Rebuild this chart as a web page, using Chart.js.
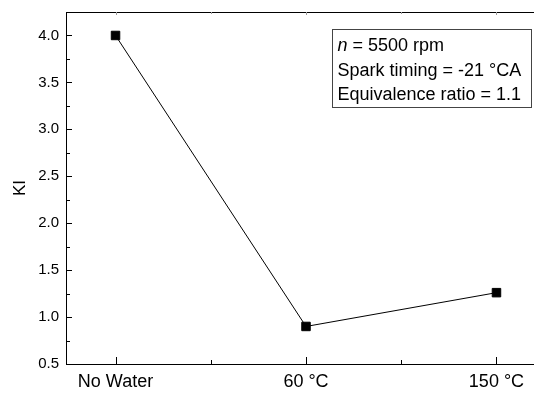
<!DOCTYPE html>
<html>
<head>
<meta charset="utf-8">
<script src="https://cdn.jsdelivr.net/npm/chart.js@4/dist/chart.umd.min.js"></script>
<style>
  html, body { margin: 0; padding: 0; background: #fff; overflow: hidden; }
  #wrap { width: 553px; height: 394px; }
</style>
</head>
<body>
<div id="wrap"><canvas id="kiChart"></canvas></div>
<script>
const categories = ['No Water', '60 °C', '150 °C'];
const kiValues = [4.0, 0.9, 1.26];
const yTicks = [0.5, 1.0, 1.5, 2.0, 2.5, 3.0, 3.5, 4.0];
const infoLines = ['= 5500 rpm', 'Spark timing = -21 °CA', 'Equivalence ratio = 1.1'];

const FONT = '"Liberation Sans", Arial, sans-serif';

// ticks point into the plot area, with a minor tick between each pair of majors
const frameTicks = {
  id: 'frameTicks',
  afterDraw(chart) {
    const { ctx, chartArea: a, scales } = chart;
    const x = scales.x, y = scales.y;
    ctx.save();
    ctx.strokeStyle = '#000';
    ctx.lineWidth = 1;
    ctx.beginPath();
    // top frame line
    ctx.moveTo(a.left, a.top + 0.5);
    ctx.lineTo(a.right, a.top + 0.5);
    for (let v = 0.5; v <= 4.25; v += 0.25) {
      const py = Math.round(y.getPixelForValue(v)) + 0.5;
      const major = Math.abs(v * 2 - Math.round(v * 2)) < 1e-6;
      ctx.moveTo(a.left, py);
      ctx.lineTo(a.left + (major ? 6 : 4), py);
    }
    for (let v = 0; v <= 2; v += 0.5) {
      const px = Math.round(x.getPixelForValue(v)) + 0.5;
      const major = Number.isInteger(v);
      ctx.moveTo(px, a.bottom);
      ctx.lineTo(px, a.bottom - (major ? 7 : 4));
    }
    ctx.stroke();
    ctx.strokeStyle = '#999';
    ctx.beginPath();
    for (let v = 0; v <= 2; v += 0.5) {
      const px = Math.round(x.getPixelForValue(v)) + 0.5;
      ctx.moveTo(px, a.top);
      ctx.lineTo(px, a.top + (Number.isInteger(v) ? 3 : 2));
    }
    ctx.stroke();
    ctx.restore();
  }
};

// conditions box in the upper right corner
const infoBox = {
  id: 'infoBox',
  afterDraw(chart) {
    const { ctx, chartArea: a } = chart;
    const left = a.left + 266.5, top = a.top + 17.5;
    const w = 199, h = 78;
    ctx.save();
    ctx.strokeStyle = '#444';
    ctx.lineWidth = 1;
    ctx.strokeRect(left, top, w, h);
    ctx.fillStyle = '#000';
    ctx.textBaseline = 'alphabetic';
    ctx.textAlign = 'left';
    const tx = left + 5;
    const lineH = 24.5;
    const base = top + 21.5;
    ctx.font = 'italic 18px ' + FONT;
    ctx.fillText('n', tx, base);
    const nw = ctx.measureText('n ').width;
    ctx.font = '18px ' + FONT;
    ctx.fillText(infoLines[0], tx + nw, base);
    ctx.fillText(infoLines[1], tx, base + lineH);
    ctx.fillText(infoLines[2], tx, base + lineH * 2);
    ctx.restore();
  }
};

new Chart(document.getElementById('kiChart'), {
  type: 'line',
  data: {
    datasets: [{
      label: 'KI',
      data: kiValues.map((v, i) => ({ x: i, y: v })),
      borderColor: '#000',
      borderWidth: 1,
      backgroundColor: '#000',
      pointStyle: 'rect',
      pointRadius: 6,
      pointHoverRadius: 6,
      tension: 0
    }]
  },
  options: {
    responsive: true,
    maintainAspectRatio: false,
    animation: false,
    events: [],
    layout: { padding: { top: 12, right: 0, left: 0, bottom: 0 } },
    plugins: { legend: { display: false }, tooltip: { enabled: false } },
    scales: {
      x: {
        type: 'linear',
        min: -0.26,
        max: 2.26,
        afterBuildTicks: s => { s.ticks = categories.map((c, i) => ({ value: i })); },
        afterFit: s => {
          s.height = 30;
          s.paddingLeft = 0;
          s.paddingRight = 0;
        },
        grid: { display: false, drawTicks: false },
        border: { display: true, color: '#000', width: 1 },
        ticks: {
          color: '#000',
          font: { family: FONT, size: 18 },
          padding: 7,
          maxRotation: 0,
          autoSkip: false,
          callback: v => categories[v]
        }
      },
      y: {
        min: 0.5,
        max: 4.25,
        afterBuildTicks: s => { s.ticks = yTicks.map(v => ({ value: v })); },
        afterFit: s => {
          s.width = 66;
          s.paddingTop = 0;
          s.paddingBottom = 0;
        },
        grid: { display: false, drawTicks: false },
        border: { display: true, color: '#000', width: 1 },
        title: {
          display: true,
          text: 'KI',
          color: '#000',
          font: { family: FONT, size: 17 },
          padding: { top: 10, bottom: 0 }
        },
        ticks: {
          color: '#000',
          font: { family: FONT, size: 15 },
          padding: 7,
          callback: v => v.toFixed(1)
        }
      }
    }
  },
  plugins: [frameTicks, infoBox]
});
</script>
</body>
</html>
